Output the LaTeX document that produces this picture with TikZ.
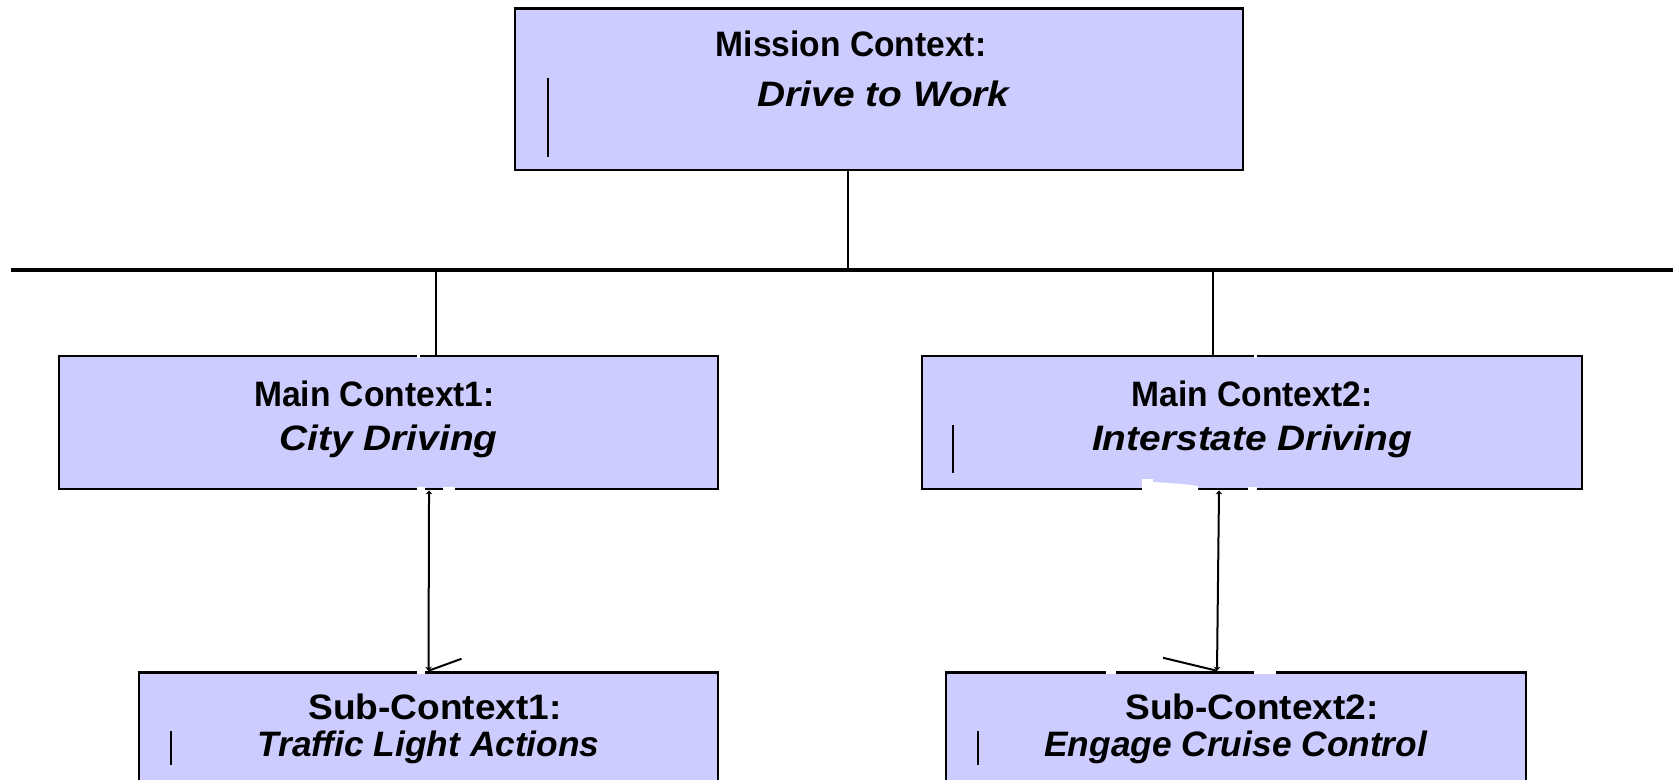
\documentclass[tikz,border=0pt]{standalone}
\usepackage{fontspec}
\setmainfont{Liberation Sans}[BoldFeatures={FakeStretch=0.95},BoldItalicFeatures={FakeStretch=1.1}]
\newfontfamily\subfont{Liberation Sans}[BoldFeatures={FakeStretch=1.05},BoldItalicFeatures={FakeStretch=1.0}]
\usetikzlibrary{arrows.meta}

\definecolor{ctxfill}{RGB}{204,204,255}

\tikzset{
  ctxbox/.style={draw=black, line width=2.1pt, fill=ctxfill, rectangle, inner sep=0pt},
  ctxtext/.style={align=center, anchor=north, inner sep=0pt, font=\bfseries\fontsize{26.5}{#1}\selectfont},
  ctxtext/.default={33},
  subtext/.style={align=center, anchor=north, inner sep=0pt, font=\subfont\bfseries\fontsize{26.5}{28}\selectfont},
  link/.style={line width=1.5pt},
  tiptwo/.style={{Stealth[length=3pt,width=5pt]}-{Stealth[length=3pt,width=5pt]}},
  caret/.style={line width=1.5pt},
  gap/.style={draw=white, line width=2.6pt}
}

\begin{document}
\begin{tikzpicture}[x=0.75pt,y=0.75pt,yscale=-1,xscale=1]
        \clip (0,0) rectangle (1673,780);
        %Shape: Rectangle (mission)
        \node [ctxbox, minimum width=546pt, minimum height=121.1pt] (mission) at (879,89.25) {};
        \node [ctxtext=37.5, yshift=-17.4pt] (missiontxt) at (mission.north) {Mission Context:\hspace*{42pt}\\\hspace*{8pt}\textit{Drive to Work}};
        %Shape: Rectangle (main contexts)
        \node [ctxbox, minimum width=494.25pt, minimum height=99.75pt] (main1) at (388.5,422.5) {};
        \node [ctxtext, yshift=-19.3pt] (main1txt) at (main1.north) {Main Context1:\hspace*{21pt}\\\textit{City Driving}};
        \node [ctxbox, minimum width=495pt, minimum height=99.75pt] (main2) at (1252,422.5) {};
        \node [ctxtext, yshift=-19.3pt] (main2txt) at (main2.north) {Main Context2:\\\textit{Interstate Driving}};
        %Shape: Rectangle (sub contexts)
        \node [ctxbox, minimum width=434.25pt, minimum height=101pt] (sub1) at (428.5,739.5) {};
        \node [subtext, yshift=-17pt] (sub1txt) at (sub1.north) {\hspace*{10pt}Sub-Context1:\\\textit{Traffic Light Actions}};
        \node [ctxbox, minimum width=435pt, minimum height=101pt] (sub2) at (1236,739.5) {};
        \node [subtext, yshift=-17pt] (sub2txt) at (sub2.north) {\hspace*{24pt}Sub-Context2:\\\textit{Engage Cruise Control}};

        %Straight Lines (bus)
        \coordinate (busL) at (11,270);
        \coordinate (busR) at (1673,270);
        \draw [line width=2.4pt] (busL) -- (busR) ;
        %Straight Lines (to the bus)
        \draw [link] ([xshift=-23.25pt]mission.south) -- ([xshift=-23.25pt]mission.south |- busL) ;
        \draw [link] ([xshift=35.6pt]main1.north) -- ([xshift=35.6pt]main1.north |- busL) ;
        \draw [link] ([xshift=-29.25pt]main2.north) -- ([xshift=-29.25pt]main2.north |- busL) ;

        %Border gaps
        \draw [gap] (417,356) -- (419.5,356) ;
        \draw [gap] (1254,356) -- (1257,356) ;
        \draw [gap] (417,489) -- (425,489) (443,489) -- (455,489) ;
        \fill [white] (1142,479) -- (1153,479) -- (1153,482) -- (1183,484) -- (1198,486) -- (1198,491) -- (1142,491) -- cycle ;
        \draw [gap] (1248,489) -- (1257,489) ;
        \draw [gap] (417,672) -- (425,672) ;
        \draw [gap] (1106,672) -- (1116,672) (1254,672) -- (1276,672) ;

        %Straight Lines (main to sub)
        \draw [link, tiptwo] ([xshift=30.4pt]main1.south) -- (sub1.north) ;
        \draw [link, tiptwo] ([xshift=-24.75pt]main2.south) -- ([xshift=-14.25pt]sub2.north) ;
        \draw [link] (sub1.north) -- ++(33,-12) ;
        \draw [link] ([xshift=-14.25pt]sub2.north) -- ++(-54,-13) ;

        %Straight Lines (carets)
        \draw [caret] (548,78) -- (548,157) ;
        \draw [caret] (953,425) -- (953,473) ;
        \draw [caret] (171,731) -- (171,765) ;
        \draw [caret] (978,731) -- (978,765) ;
\end{tikzpicture}
\end{document}
